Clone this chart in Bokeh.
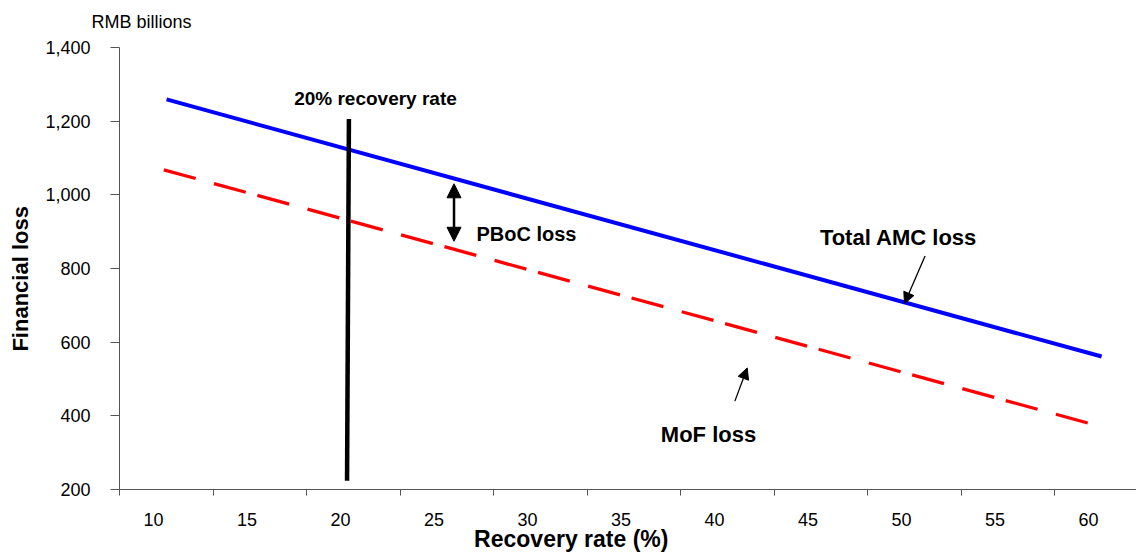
import math
from bokeh.plotting import figure
from bokeh.models import (Range1d, FixedTicker, NumeralTickFormatter, Label,
                          Arrow, NormalHead)
from bokeh.embed import file_html
from bokeh.resources import INLINE

# ---- data ----
rate_labels = [10, 15, 20, 25, 30, 35, 40, 45, 50, 55, 60]
loss_ticks = [200, 400, 600, 800, 1000, 1200, 1400]

total_rate = [10.7, 60.7]
total_loss = [1259, 561]

mof_rate = [10.55, 60.0]
mof_loss = [1068, 380]

marker_rate = [20.45, 20.35]
marker_loss = [1206, 224]

FONT = "Liberation Sans"
AXIS_COL = "#555555"

# ---- layout: the frame fills the whole figure; axes are fixed inside it ----
W, H = 1136, 556
PX_PER_RATE = 18.7           # pixels per 1 % of recovery rate
X10_PX = 153.0               # pixel position of the "10" label
PX_PER_LOSS = 73.67 / 200.0  # pixels per RMB bn
Y1400_PX = 47.0              # pixel position of the 1,400 tick

x0 = 10 - X10_PX / PX_PER_RATE
x1 = x0 + W / PX_PER_RATE
y1 = 1400 + Y1400_PX / PX_PER_LOSS
y0 = y1 - H / PX_PER_LOSS
x_axis_start = 10 - 34.0 / PX_PER_RATE   # where the y axis sits

p = figure(width=W, height=H, output_backend="svg", toolbar_location=None,
           x_range=Range1d(x0, x1), y_range=Range1d(y0, y1),
           min_border=0, min_border_left=0, min_border_right=0,
           min_border_top=0, min_border_bottom=0)
p.outline_line_color = None
p.grid.visible = False
p.background_fill_color = "white"
p.border_fill_color = "white"

# x axis: boundary tick marks (as minor ticks) and offset category labels
minor = [x_axis_start + 5 * k for k in range(11)]
xa = p.xaxis[0]
xa.fixed_location = 200
xa.bounds = (x_axis_start, x1)
xa.ticker = FixedTicker(ticks=rate_labels, minor_ticks=minor)
xa.major_tick_line_color = None
xa.major_tick_out = 6
xa.major_tick_in = 0
xa.minor_tick_out = 6
xa.minor_tick_in = 0
xa.minor_tick_line_color = AXIS_COL
xa.axis_line_color = AXIS_COL
xa.major_label_standoff = 17
xa.major_label_text_font = FONT
xa.major_label_text_font_size = "18px"
xa.major_label_text_color = "black"

ya = p.yaxis[0]
ya.fixed_location = x_axis_start
ya.bounds = (200, 1400)
ya.ticker = FixedTicker(ticks=loss_ticks)
ya.formatter = NumeralTickFormatter(format="0,0")
ya.major_tick_out = 9
ya.major_tick_in = 0
ya.minor_tick_line_color = None
ya.major_tick_line_color = AXIS_COL
ya.axis_line_color = AXIS_COL
ya.major_label_standoff = 20
ya.major_label_text_font = FONT
ya.major_label_text_font_size = "18px"
ya.major_label_text_color = "black"

# series
p.line(total_rate, total_loss, line_color="#0000FF", line_width=4)
p.line(mof_rate, mof_loss, line_color="#FF0000", line_width=3.3,
       line_dash="33 19 33 12")
p.line(marker_rate, marker_loss, line_color="black", line_width=4.5)

# arrows
p.add_layout(Arrow(start=NormalHead(size=14, fill_color="black", line_color="black"),
                   end=NormalHead(size=14, fill_color="black", line_color="black"),
                   x_start=26.07, y_start=1030, x_end=26.07, y_end=874,
                   line_width=2.5, line_color="black"))
p.add_layout(Arrow(end=NormalHead(size=11, fill_color="black", line_color="black"),
                   x_start=51.26, y_start=834, x_end=50.16, y_end=705,
                   line_width=1.3, line_color="black"))
p.add_layout(Arrow(end=NormalHead(size=11, fill_color="black", line_color="black"),
                   x_start=41.09, y_start=440, x_end=41.75, y_end=530,
                   line_width=1.3, line_color="black"))

def lab(x, y, text, size, bold=True, align="center", angle=0.0):
    p.add_layout(Label(x=x, y=y, text=text, text_font=FONT,
                       text_font_size=size,
                       text_font_style="bold" if bold else "normal",
                       text_align=align, text_baseline="alphabetic",
                       text_color="black", angle=angle))

lab(21.87, 1262, "20% recovery rate", "19px")
lab(27.27, 893, "PBoC loss", "20px", align="left")
lab(49.84, 885, "Total AMC loss", "22px")
lab(39.68, 350, "MoF loss", "22px")
lab(6.68, 1468, "RMB billions", "18px", bold=False, align="left")
lab(32.34, 66, "Recovery rate (%)", "23px")
lab(2.90, 772, "Financial loss", "22px", angle=math.pi / 2)

open("out.html", "w").write(file_html(p, INLINE))
